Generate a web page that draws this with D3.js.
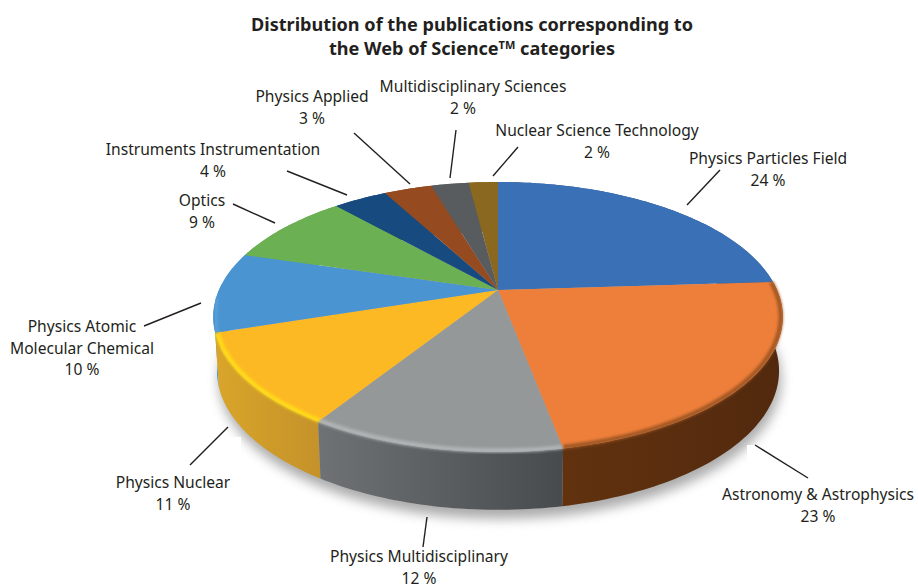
<!DOCTYPE html>
<html>
<head>
<meta charset="utf-8">
<script src="https://d3js.org/d3.v7.min.js"></script>
<style>
    html, body { margin: 0; padding: 0; background: #fff; }
    svg { display: block; }
    text { font-family: "Noto Sans", "Open Sans", sans-serif; fill: #231f20; }
</style>
</head>
<body>
<div id="chart"></div>
<script>
const categories = [
    "Physics Particles Field", "Astronomy & Astrophysics", "Physics Multidisciplinary",
    "Physics Nuclear", "Physics Atomic Molecular Chemical", "Optics",
    "Instruments Instrumentation", "Physics Applied", "Multidisciplinary Sciences",
    "Nuclear Science Technology"
];
// shares as measured off the slices, printed labels are kept apart
const shares = [24, 23, 12, 11, 9.6, 8.8, 3.7, 3.3, 2.6, 2];
const percentLabels = ["24 %", "23 %", "12 %", "11 %", "10 %", "9 %", "4 %", "3 %", "2 %", "2 %"];

const topColors = ["#3a70b6", "#ee7f3a", "#959899", "#fdb924", "#4a94d2", "#6bb053", "#174b80", "#954a20", "#585c5e", "#8a6820"];
const sideColors = [
    ["#2c5688", "#2c5688"], ["#62320f", "#52290e"], ["#6e7274", "#484b4d"],
    ["#d9a52a", "#c4922a"], ["#4a94d2", "#4a94d2"], ["#6bb053", "#6bb053"],
    ["#174b80", "#174b80"], ["#954a20", "#954a20"], ["#585c5e", "#585c5e"], ["#8a6820", "#8a6820"]
];
const bevelColors = [null, "#9a5220", "#b4b7b7", "#ffdf12", "#5a9fd8", null, null, null, null, null];

// label placement: text lines with centre x / first baseline, then the leader line
const labelLayout = [
    { lines: ["Physics Particles Field"], x: 768, y: 164, leader: [[720, 170], [687, 205]] },
    { lines: ["Astronomy & Astrophysics"], x: 818, y: 500, leader: [[755, 445], [808, 478]] },
    { lines: ["Physics Multidisciplinary"], x: 419, y: 562, leader: [[427, 517], [423, 547]] },
    { lines: ["Physics Nuclear"], x: 173, y: 488, leader: [[228, 427], [190, 465]] },
    { lines: ["Physics Atomic", "Molecular Chemical"], x: 82, y: 332, leader: [[201, 303], [144, 326]] },
    { lines: ["Optics"], x: 202, y: 206, leader: [[275, 223], [233, 204]] },
    { lines: ["Instruments Instrumentation"], x: 213, y: 155, leader: [[347, 195], [287, 171]] },
    { lines: ["Physics Applied"], x: 312, y: 102, leader: [[410, 184], [354, 133]] },
    { lines: ["Multidisciplinary Sciences"], x: 473, y: 92, leader: [[450, 178], [456, 130]], pctX: 463 },
    { lines: ["Nuclear Science Technology"], x: 597, y: 136, leader: [[493, 176], [518, 147]] }
];

const width = 918, height = 587;
const cx = 498, cy = 290;          // where the pie centre lands on screen
const radiusX = 279, radiusY = 129.6;
const tilt = 0.2;                  // perspective strength, near edge looks bigger
const depth = 53;

const svg = d3.select("#chart").append("svg")
    .attr("width", width)
    .attr("height", height)
    .attr("viewBox", `0 0 ${width} ${height}`);

const defs = svg.append("defs");
[["blur2", 1.6], ["blur7", 6]].forEach(([id, dev]) => {
    defs.append("filter").attr("id", id)
        .attr("x", "-10%").attr("y", "-10%").attr("width", "120%").attr("height", "120%")
        .append("feGaussianBlur").attr("stdDeviation", dev);
});

// perspective projection of a pie angle onto the upper or the lower rim
function rim(angle, r = 1, lower = false) {
    const u = r * Math.sin(angle), v = -r * Math.cos(angle);
    const w = 1 - tilt * v;
    if (lower) return [cx + 0.987 * radiusX * u / w, cy + depth + 1.03 * radiusY * v / w];
    return [cx + radiusX * u / w, cy + radiusY * v / w];
}

function arcPoints(a0, a1, r, lower) {
    const n = Math.max(2, Math.ceil((a1 - a0) / 0.02));
    return d3.range(n + 1).map(i => rim(a0 + (a1 - a0) * i / n, r, lower));
}

const line = d3.line();
const pie = d3.pie().sort(null)(shares);

// soft shadow under the disc
svg.append("path")
    .attr("d", line(arcPoints(0, 2 * Math.PI, 1, true)) + "Z")
    .attr("transform", "translate(2,9)")
    .attr("fill", "#8f8f8f")
    .attr("opacity", 0.75)
    .attr("filter", "url(#blur7)");

// the labels were pasted on white boxes in the source, they cut into the shadow
svg.append("rect").attr("x", 150).attr("y", 437).attr("width", 91).attr("height", 30).attr("fill", "#fff");
svg.append("rect").attr("x", 747).attr("y", 445).attr("width", 60).attr("height", 30).attr("fill", "#fff");

// side walls, back to front
const order = d3.range(pie.length).sort((a, b) => {
    const mid = d => (d.startAngle + d.endAngle) / 2;
    return -Math.cos(mid(pie[a])) - -Math.cos(mid(pie[b]));
});
order.forEach(i => {
    const d = pie[i];
    const grad = defs.append("linearGradient").attr("id", "side" + i);
    grad.append("stop").attr("offset", "0%").attr("stop-color", sideColors[i][0]);
    grad.append("stop").attr("offset", "100%").attr("stop-color", sideColors[i][1]);
    const pts = arcPoints(d.startAngle, d.endAngle, 1, false)
        .concat(arcPoints(d.startAngle, d.endAngle, 1, true).reverse());
    svg.append("path")
        .attr("d", line(pts) + "Z")
        .attr("fill", `url(#side${i})`);
});

// top face
svg.selectAll("path.top")
    .data(pie)
    .join("path")
    .attr("class", "top")
    .attr("fill", (d, i) => topColors[i])
    .attr("d", d => line([[cx, cy]].concat(arcPoints(d.startAngle, d.endAngle, 1, false))) + "Z");

// rounded front edge
pie.forEach((d, i) => {
    if (!bevelColors[i]) return;
    // the light blue slice only catches the light near the yellow one
    const a0 = d.startAngle, a1 = i === 4 ? d.startAngle + 0.25 : d.endAngle;
    svg.append("path")
        .attr("d", line(arcPoints(a0, a1, 0.993, false)))
        .attr("fill", "none")
        .attr("stroke", bevelColors[i])
        .attr("stroke-width", 4)
        .attr("filter", "url(#blur2)");
});

// leader lines
svg.append("g").selectAll("path")
    .data(labelLayout)
    .join("path")
    .attr("d", d => line(d.leader))
    .attr("fill", "none")
    .attr("stroke", "#231f20")
    .attr("stroke-width", 1.4);

// labels
labelLayout.forEach((d, i) => {
    const g = svg.append("g").style("font-size", "15.6px").attr("text-anchor", "middle");
    d.lines.forEach((t, j) => {
        g.append("text").attr("x", d.x).attr("y", d.y + j * 22).text(t);
    });
    g.append("text")
        .attr("x", d.pctX || d.x)
        .attr("y", d.y + d.lines.length * 21.5)
        .text(percentLabels[i]);
});

// title
const title = svg.append("g").attr("text-anchor", "middle")
    .style("font-size", "18.1px").style("font-weight", "700");
title.append("text").attr("x", 472).attr("y", 31).text("Distribution of the publications corresponding to");
const t2 = title.append("text").attr("x", 472).attr("y", 55);
t2.append("tspan").text("the Web of Science");
t2.append("tspan").attr("dy", -6).style("font-size", "11px").text("TM");
t2.append("tspan").attr("dy", 6).text(" categories");
</script>
</body>
</html>
